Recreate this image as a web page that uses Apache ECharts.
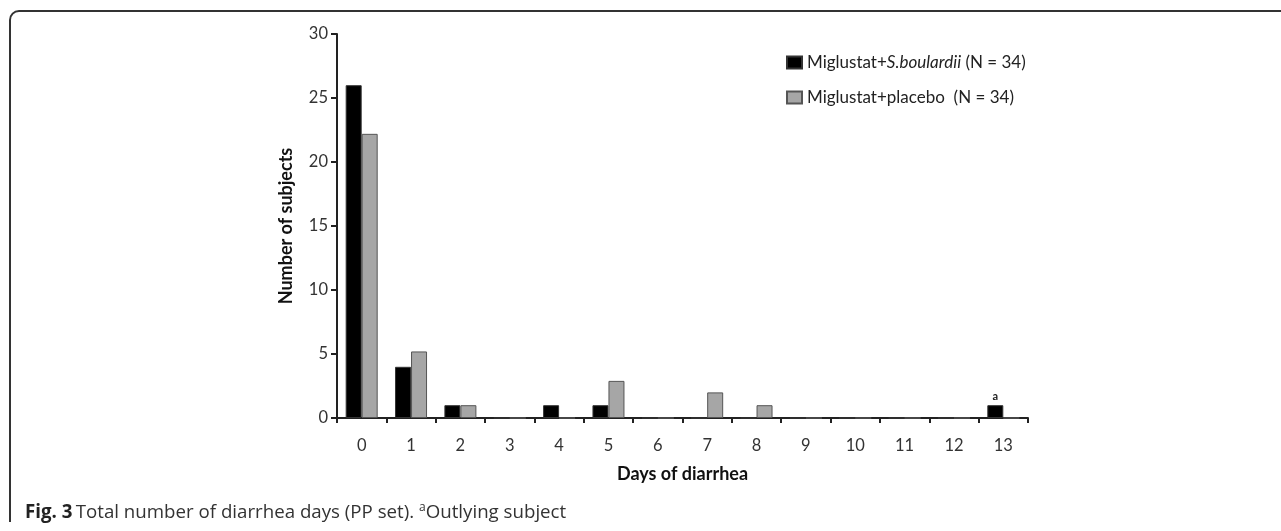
<!DOCTYPE html>
<html>
<head>
<meta charset="utf-8">
<script src="https://cdn.jsdelivr.net/npm/echarts@6/dist/echarts.min.js"></script>
<style>html,body{margin:0;padding:0;background:#fff;}#c{width:1281px;height:531px;}</style>
</head>
<body>
<div id="c"></div>
<script>
var categories = ['0','1','2','3','4','5','6','7','8','9','10','11','12','13'];
var sBoulardii = [26, 4, 1, 0, 1, 1, 0, 0, 0, 0, 0, 0, 0, 1];
var placebo = [22.2, 5.2, 1, 0, 0, 2.9, 0, 2, 1, 0, 0, 0, 0, 0];
var yTicks = [0, 5, 10, 15, 20, 25, 30];
var outlierIndex = 13;

var chart = echarts.init(document.getElementById('c'));
var fontChart = 'Lato, "Open Sans", sans-serif';

var blackData = sBoulardii.map(function (v, i) {
  if (i === outlierIndex) {
    return { value: v, label: { show: true, position: 'top', distance: 3, formatter: 'a', fontSize: 11, fontWeight: 'bold', color: '#222', fontFamily: fontChart } };
  }
  return v;
});

chart.setOption({
  animation: false,
  backgroundColor: '#fff',
  grid: { left: 337, right: 253, top: 34, bottom: 113 },
  legend: {
    orient: 'vertical',
    left: 781,
    top: 49,
    itemWidth: 15,
    itemHeight: 12,
    itemGap: 18,
    textStyle: {
      fontFamily: fontChart, fontSize: 17, color: '#222',
      rich: {
        n: { fontFamily: fontChart, fontSize: 17, color: '#222' },
        i: { fontFamily: fontChart, fontSize: 17, color: '#222', fontStyle: 'italic' }
      }
    },
    formatter: function (name) {
      if (name.indexOf('S.boulardii') >= 0) {
        return '{n|Miglustat+}{i|S.boulardii}{n| (N = 34)}';
      }
      return '{n|' + name + '}';
    },
    data: [
      { name: 'Miglustat+S.boulardii (N = 34)', icon: 'rect' },
      { name: 'Miglustat+placebo  (N = 34)', icon: 'rect' }
    ]
  },
  xAxis: {
    type: 'category',
    data: categories,
    name: 'Days of diarrhea',
    nameLocation: 'middle',
    nameGap: 47,
    nameTextStyle: { fontFamily: fontChart, fontSize: 18, fontWeight: 'bold', color: '#111' },
    axisLine: { lineStyle: { color: '#222', width: 2 } },
    axisTick: { show: true, length: 5, lineStyle: { color: '#222', width: 2 } },
    axisLabel: { margin: 19, fontFamily: fontChart, fontSize: 16.5, color: '#333' }
  },
  yAxis: {
    type: 'value',
    min: 0,
    max: 30,
    interval: 5,
    name: 'Number of subjects',
    nameLocation: 'middle',
    nameGap: 42,
    nameTextStyle: { fontFamily: fontChart, fontSize: 18, fontWeight: 'bold', color: '#111' },
    splitLine: { show: false },
    axisLine: { show: true, lineStyle: { color: '#222', width: 2 } },
    axisTick: { show: true, length: 6, lineStyle: { color: '#222', width: 2 } },
    axisLabel: {
      margin: 9, fontFamily: fontChart, fontSize: 16.5, color: '#333',
      formatter: function (v) { return yTicks.indexOf(v) >= 0 ? String(v) : ''; }
    }
  },
  series: [
    {
      name: 'Miglustat+S.boulardii (N = 34)',
      type: 'bar',
      data: blackData,
      barWidth: 16,
      barGap: '0%',
      itemStyle: { color: '#000', borderColor: '#333', borderWidth: 1 }
    },
    {
      name: 'Miglustat+placebo  (N = 34)',
      type: 'bar',
      data: placebo,
      barWidth: 16,
      barGap: '0%',
      itemStyle: { color: '#a6a6a6', borderColor: '#555', borderWidth: 1 }
    }
  ],
  graphic: [
    {
      type: 'polyline',
      shape: { points: [[10, 522], [10, 20]] },
      style: { fill: null, stroke: '#333', lineWidth: 2 }
    },
    {
      type: 'arc',
      shape: { cx: 19, cy: 20, r: 9, startAngle: Math.PI, endAngle: Math.PI * 1.5, clockwise: true },
      style: { fill: null, stroke: '#333', lineWidth: 2 }
    },
    {
      type: 'polyline',
      shape: { points: [[19, 11], [1281, 11]] },
      style: { fill: null, stroke: '#333', lineWidth: 2 }
    },
    {
      type: 'text',
      left: 25,
      top: 502,
      style: {
        text: '{b|Fig. 3} {n|Total number of diarrhea days (PP set). }{s|a}{n|Outlying subject}',
        rich: {
          b: { fontFamily: '"Open Sans", sans-serif', fontSize: 18.7, fontWeight: 'bold', fill: '#222' },
          n: { fontFamily: '"Open Sans", sans-serif', fontSize: 18.7, fill: '#333' },
          s: { fontFamily: '"Open Sans", sans-serif', fontSize: 12, fill: '#333', verticalAlign: 'top', padding: [0, 0, 9, 0] }
        }
      }
    }
  ]
});
</script>
</body>
</html>
